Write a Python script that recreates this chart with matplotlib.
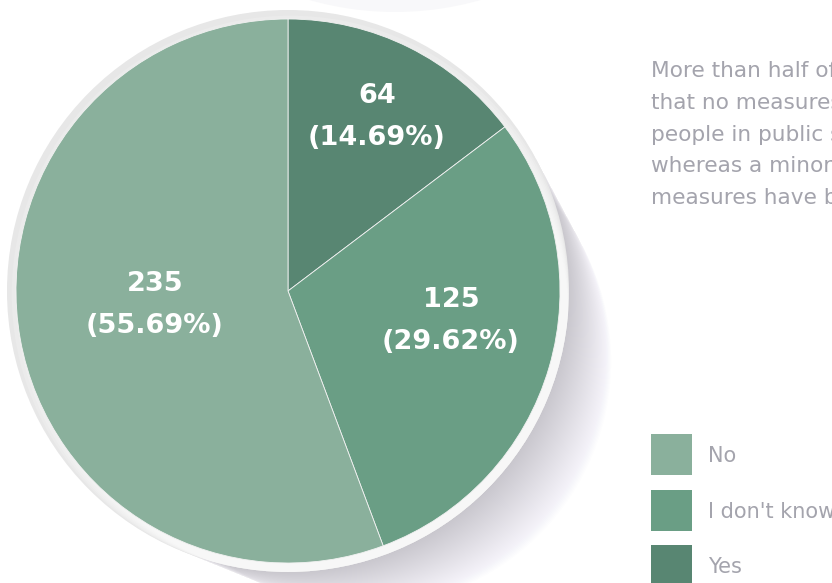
import numpy as np
import matplotlib.pyplot as plt
from matplotlib.patches import Circle, Rectangle

# slices, clockwise from the top
names = ["Yes", "I don't know", "No"]
counts = [64, 125, 235]
shares = [14.69, 29.62, 55.69]
colors = ["#588672", "#6a9e85", "#8ab09c"]

# legend is listed the other way round
legend_names = ["No", "I don't know", "Yes"]
legend_colors = ["#8ab09c", "#6a9e85", "#588672"]

note_lines = [
    "More than half of the respondents said",
    "that no measures have been taken to protect",
    "people in public spaces from the heat,",
    "whereas a minority said that some",
    "measures have been taken.",
]

# label spots in pixels (layout only)
label_xy = [(377, 117), (451, 321), (155, 305)]

W, H = 832, 583
cx, cy, r = 288, 291, 272
ring_r = 281
grey = "#a4a4ad"

fig = plt.figure(figsize=(W / 100, H / 100), dpi=100)
ax = fig.add_axes([0, 0, 1, 1])

# faint shape peeking in at the top
ax.add_patch(Circle((395, -300), 312, facecolor="#f8f8fa", edgecolor="none", zorder=0))

# soft shadow to the lower right, built from stacked offset discs
ang = np.deg2rad(42)
for d in np.linspace(0, 105, 50):
    ox, oy = d * np.cos(ang), d * np.sin(ang)
    ax.add_patch(Circle((cx + ox, cy + oy), ring_r - 0.34 * d,
                        facecolor="#77738e", edgecolor="none", alpha=0.007, zorder=1))

# light ring round the pie, paler towards the lower right
ring = Circle((cx, cy), ring_r, facecolor="#e7e7e7", edgecolor="none", zorder=2)
ax.add_patch(ring)
hang = np.deg2rad(55)
for d in np.linspace(4, 30, 8):
    hl = Circle((cx + d * np.cos(hang), cy + d * np.sin(hang)), ring_r - 0.6 * d,
                facecolor="white", edgecolor="none", alpha=0.17, zorder=2.5)
    ax.add_patch(hl)
    hl.set_clip_path(ring)

# y axis is inverted, so start at -90 and go "counterclock" to look clockwise
wedges, _ = ax.pie(shares, colors=colors, startangle=-90, counterclock=True,
                   center=(cx, cy), radius=r,
                   wedgeprops=dict(edgecolor="#f2f2f2", linewidth=0.6))
for w in wedges:
    w.set_zorder(3)

for (x, y), n, p in zip(label_xy, counts, shares):
    ax.text(x, y - 21, str(n), color="white", fontsize=19.5, fontweight="bold",
            ha="center", va="center", zorder=5)
    ax.text(x, y + 21, "(%.2f%%)" % p, color="white", fontsize=19.5, fontweight="bold",
            ha="center", va="center", zorder=5)

for i, line in enumerate(note_lines):
    ax.text(651, 77 + i * 31.8, line, color=grey, fontsize=15.6,
            ha="left", va="baseline", clip_on=True, zorder=5)

for i, (n, c) in enumerate(zip(legend_names, legend_colors)):
    top = 434 + i * 55.5
    ax.add_patch(Rectangle((651, top), 41, 41, facecolor=c, edgecolor="none", zorder=5))
    ax.text(708, top + 22, n, color=grey, fontsize=15,
            ha="left", va="center", clip_on=True, zorder=5)

ax.set_xlim(0, W)
ax.set_ylim(H, 0)
ax.set_aspect("equal")
ax.axis("off")

fig.savefig("out.png", dpi=100, facecolor="white")
